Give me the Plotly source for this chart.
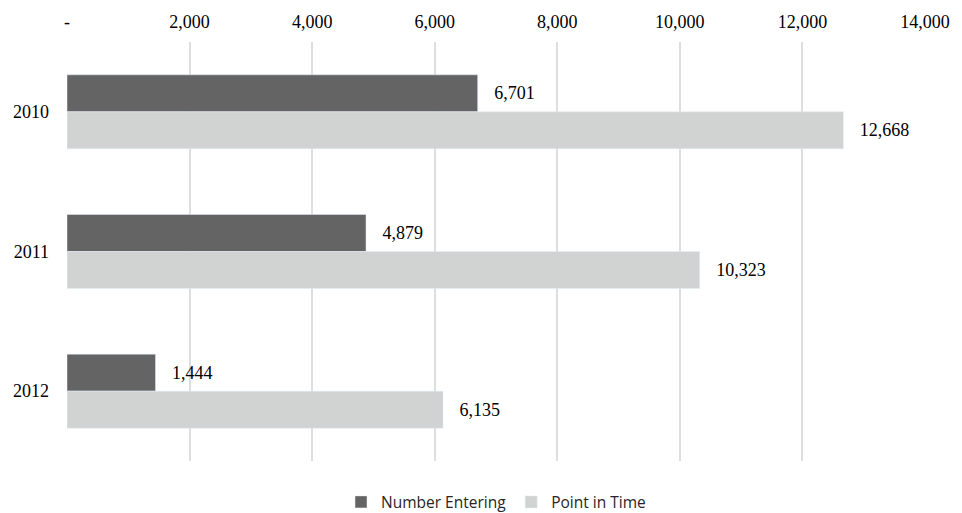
import plotly.graph_objects as go

years = ["2010", "2011", "2012"]
number_entering = [6701, 4879, 1444]
point_in_time = [12668, 10323, 6135]
tick_vals = [0, 2000, 4000, 6000, 8000, 10000, 12000, 14000]
tick_text = ["-", "2,000", "4,000", "6,000", "8,000", "10,000", "12,000", "14,000"]

serif = "Liberation Serif"
fs = 18
pad = "\u00a0" * 3

fig = go.Figure()
fig.add_trace(go.Bar(
    y=years, x=number_entering, name="Number Entering", orientation="h",
    marker=dict(color="#646464"),
    text=[pad + f"{v:,}" for v in number_entering], textposition="outside",
    textfont=dict(family=serif, size=fs, color="#000000"),
    cliponaxis=False,
))
fig.add_trace(go.Bar(
    y=years, x=point_in_time, name="Point in Time", orientation="h",
    marker=dict(color="#d1d3d2"),
    text=[pad + f"{v:,}" for v in point_in_time], textposition="outside",
    textfont=dict(family=serif, size=fs, color="#000000"),
    cliponaxis=False,
))

fig.update_layout(
    width=962, height=513,
    margin=dict(l=67, r=37, t=42, b=52, autoexpand=False),
    paper_bgcolor="white", plot_bgcolor="white",
    barmode="group", bargap=0.47, bargroupgap=0,
    font=dict(family=serif, size=fs, color="#000000"),
    xaxis=dict(
        side="top", range=[0, 14000], tickvals=tick_vals, ticktext=tick_text,
        showgrid=True, gridcolor="#dedede", gridwidth=1.5, zeroline=False,
        showline=False, ticks="", ticklabelstandoff=9,
        tickfont=dict(family=serif, size=fs), automargin=False,
    ),
    yaxis=dict(
        autorange="reversed", showgrid=False, zeroline=False, showline=False,
        ticks="", ticklabelstandoff=17, tickfont=dict(family=serif, size=fs),
        automargin=False,
    ),
    legend=dict(
        orientation="h", x=0.5, xanchor="center", y=-0.058, yanchor="top",
        font=dict(family="Open Sans", size=15.5, color="#262626"),
        traceorder="normal",
    ),
    showlegend=True,
)

fig.write_html("out.html")
